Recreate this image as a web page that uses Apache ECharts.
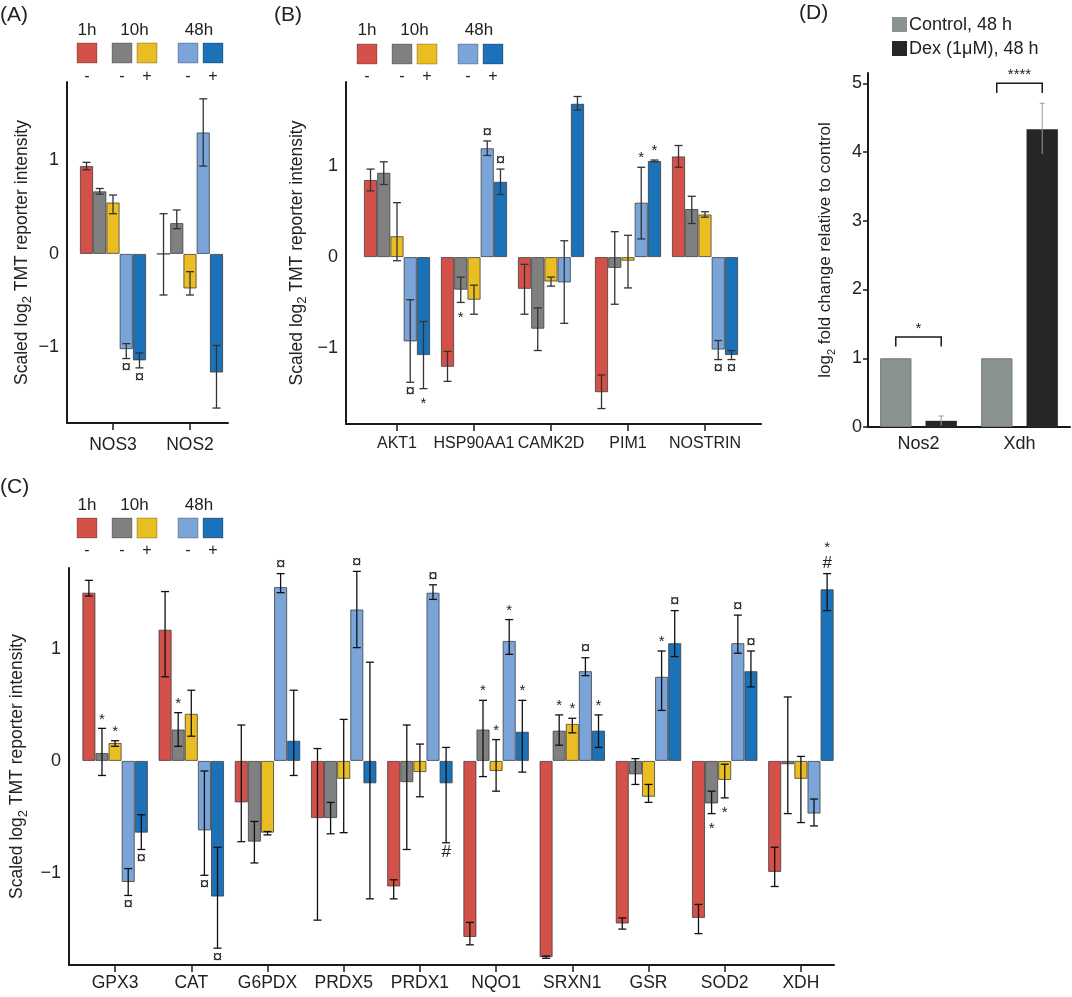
<!DOCTYPE html>
<html>
<head>
<meta charset="utf-8">
<title>Scaled log2 TMT reporter intensity</title>
<script src="https://cdn.jsdelivr.net/npm/echarts@6/dist/echarts.min.js"></script>
<style>
html, body { margin: 0; padding: 0; background: #fff; }
#container { width: 1072px; height: 997px; }
</style>
</head>
<body>
<div id="container"></div>
<script>
// ---- data ----
var seriesNames = ['1h -', '10h -', '10h +', '48h -', '48h +'];
var seriesColors = ['#d4514a', '#808080', '#eabd22', '#7ba4d9', '#1b72b8'];
var groupLabels = ['1h', '10h', '48h'];
var treatMarks = ['-', '-', '+', '-', '+'];

// (A) rows = 1h-, 10h-, 10h+, 48h-, 48h+
var genesA = ['NOS3', 'NOS2'];
var valA = [
    [0.94, 0.00],
    [0.67, 0.33],
    [0.55, -0.37],
    [-1.02, 1.30],
    [-1.14, -1.27]
];
var loA = [
    [0.90, -0.44],
    [0.64, 0.27],
    [0.43, -0.44],
    [-1.12, 0.94],
    [-1.22, -1.65]
];
var hiA = [
    [0.98, 0.43],
    [0.70, 0.47],
    [0.63, -0.19],
    [-0.96, 1.66],
    [-1.06, -0.98]
];
var marksA = [[0, 3, '¤', 'down'], [0, 4, '¤', 'down']];

// (B)
var genesB = ['AKT1', 'HSP90AA1', 'CAMK2D', 'PIM1', 'NOSTRIN'];
var valB = [
    [0.85, -1.21, -0.35, -1.49, 1.11],
    [0.93, -0.36, -0.79, -0.12, 0.53],
    [0.23, -0.47, -0.27, -0.04, 0.47],
    [-0.93, 1.20, -0.28, 0.60, -1.02],
    [-1.08, 0.83, 1.69, 1.06, -1.08]
];
var loB = [
    [0.73, -1.37, -0.63, -1.67, 0.99],
    [0.80, -0.50, -1.03, -0.52, 0.37],
    [-0.04, -0.63, -0.32, -0.34, 0.44],
    [-1.38, 1.12, -0.73, 0.20, -1.13],
    [-1.45, 0.69, 1.62, 1.05, -1.13]
];
var hiB = [
    [0.97, -1.04, -0.08, -1.30, 1.23],
    [1.05, -0.22, -0.56, 0.28, 0.67],
    [0.60, -0.31, -0.22, 0.24, 0.50],
    [-0.47, 1.28, 0.18, 0.99, -0.92],
    [-0.71, 0.97, 1.77, 1.07, -1.03]
];
var marksB = [
    [0, 3, '¤', 'down'], [0, 4, '*', 'down'], [1, 1, '*', 'down'],
    [1, 3, '¤', 'up'], [1, 4, '¤', 'up'], [3, 3, '*', 'up'], [3, 4, '*', 'up'],
    [4, 3, '¤', 'down'], [4, 4, '¤', 'down']
];

// (C)
var genesC = ['GPX3', 'CAT', 'G6PDX', 'PRDX5', 'PRDX1', 'NQO1', 'SRXN1', 'GSR', 'SOD2', 'XDH'];
var valC = [
    [1.50, 1.17, -0.37, -0.51, -1.12, -1.57, -1.75, -1.45, -1.40, -0.99],
    [0.07, 0.28, -0.72, -0.51, -0.19, 0.28, 0.27, -0.12, -0.38, -0.03],
    [0.16, 0.42, -0.64, -0.16, -0.10, -0.09, 0.33, -0.32, -0.17, -0.16],
    [-1.08, -0.62, 1.55, 1.35, 1.50, 1.07, 0.80, 0.75, 1.05, -0.47],
    [-0.64, -1.21, 0.18, -0.20, -0.20, 0.26, 0.27, 1.05, 0.80, 1.53]
];
var loC = [
    [1.47, 0.75, -0.72, -1.42, -1.23, -1.64, -1.76, -1.50, -1.54, -1.12],
    [-0.13, 0.13, -0.91, -0.65, -0.79, -0.14, 0.14, -0.21, -0.47, -0.47],
    [0.13, 0.22, -0.66, -0.64, -0.32, -0.27, 0.25, -0.37, -0.33, -0.55],
    [-1.20, -1.02, 1.50, 1.01, 1.44, 0.95, 0.76, 0.45, 0.96, -0.58],
    [-0.79, -1.67, -0.13, -1.23, -0.73, -0.10, 0.12, 0.93, 0.66, 1.34]
];
var hiC = [
    [1.61, 1.51, 0.32, 0.11, -1.06, -1.44, -1.74, -1.40, -1.28, -0.77],
    [0.29, 0.43, -0.54, -0.37, 0.32, 0.54, 0.41, 0.02, -0.27, 0.57],
    [0.18, 0.63, -0.63, 0.37, 0.15, 0.19, 0.38, -0.21, -0.03, 0.04],
    [-0.96, -0.09, 1.67, 1.69, 1.57, 1.26, 0.92, 0.98, 1.30, -0.34],
    [-0.48, -0.77, 0.63, 0.88, 0.12, 0.54, 0.41, 1.34, 0.98, 1.67]
];
var marksC = [
    [0, 1, '*', 'up'], [0, 2, '*', 'up'], [0, 3, '¤', 'down'], [0, 4, '¤', 'down'],
    [1, 1, '*', 'up'], [1, 3, '¤', 'down'], [1, 4, '¤', 'down'],
    [2, 3, '¤', 'up'],
    [3, 3, '¤', 'up'],
    [4, 3, '¤', 'up'], [4, 4, '#', 'down'],
    [5, 1, '*', 'up'], [5, 2, '*', 'up'], [5, 3, '*', 'up'], [5, 4, '*', 'up'],
    [6, 1, '*', 'up'], [6, 2, '*', 'up'], [6, 3, '¤', 'up'], [6, 4, '*', 'up'],
    [7, 3, '*', 'up'], [7, 4, '¤', 'up'],
    [8, 1, '*', 'down'], [8, 2, '*', 'down'], [8, 3, '¤', 'up'], [8, 4, '¤', 'up'],
    [9, 4, '#', 'up'], [9, 4, '*', 'up', 1]
];

// (D)
var genesD = ['Nos2', 'Xdh'];
var controlD = [1, 1];
var dexD = [0.09, 4.33];
var dexLoD = [0.02, 3.97];
var dexHiD = [0.16, 4.71];
var bracketsD = [[0, 1.17, 1.31, '*'], [1, 4.86, 5.00, '****']];

// ---- build ----
var FONT = '"Liberation Sans", Arial, Helvetica, sans-serif';
var INK = '#1a1a1a';
var GAPF = 0.14;
var grid = [], xAxis = [], yAxis = [], series = [], graphic = [];

function minus(v) { return String(v).replace('-', '\u2212'); }

function addBarPanel(p) {
    var fi = grid.length;
    grid.push({left: p.frame[0], top: p.top, width: p.frame[1] - p.frame[0], height: p.bottom - p.top, outerBoundsMode: 'none'});
    xAxis.push({gridIndex: fi, type: 'value', min: 0, max: 1,
        axisLine: {onZero: false, lineStyle: {color: INK, width: 2}},
        axisTick: {show: false}, axisLabel: {show: false}, splitLine: {show: false}});
    yAxis.push({gridIndex: fi, type: 'value', min: p.min, max: p.max,
        axisLine: {show: true, onZero: false, lineStyle: {color: INK, width: 2}},
        axisTick: {show: false}, splitLine: {show: false},
        axisLabel: {customValues: [-1, 0, 1], formatter: minus, fontSize: 18, color: '#222', margin: 8, fontFamily: FONT},
        name: 'Scaled log{s|2} TMT reporter intensity',
        nameLocation: 'middle', nameRotate: 90, nameGap: p.nameGap,
        nameTextStyle: {fontSize: 17.5, color: '#222', fontFamily: FONT, lineHeight: 24,
            rich: {s: {fontSize: 13, color: '#222', fontFamily: FONT, verticalAlign: 'bottom', lineHeight: 13}}}
    });
    var bi = grid.length;
    grid.push({left: p.bars[0], top: p.top, width: p.bars[1] - p.bars[0], height: p.bottom - p.top, outerBoundsMode: 'none'});
    xAxis.push({gridIndex: bi, type: 'category', data: p.genes,
        axisLine: {show: false, onZero: false},
        axisTick: {show: true, alignWithLabel: true, length: 7, lineStyle: {color: INK, width: 1.5}},
        axisLabel: {fontSize: p.labelSize, color: '#222', margin: p.labelMargin, fontFamily: FONT, interval: 0},
        splitLine: {show: false}});
    yAxis.push({gridIndex: bi, type: 'value', min: p.min, max: p.max, show: false});

    p.vals.forEach(function (row, s) {
        series.push({type: 'bar', name: seriesNames[s], xAxisIndex: bi, yAxisIndex: bi, data: row,
            barGap: '0%', barCategoryGap: (GAPF * 100) + '%', silent: true,
            itemStyle: {color: seriesColors[s], borderColor: 'rgba(55,55,55,0.75)', borderWidth: 1}});
    });

    var errData = [];
    p.lo.forEach(function (row, s) {
        row.forEach(function (lo, c) { errData.push([c, lo, p.hi[s][c], s]); });
    });
    series.push({type: 'custom', xAxisIndex: bi, yAxisIndex: bi, silent: true, z: 4,
        data: errData, encode: {x: 0, y: [1, 2]},
        renderItem: function (params, api) {
            var c = api.value(0), s = api.value(3);
            var bw = api.size([1, 0])[0] * (1 - GAPF) / 5;
            var x = api.coord([c, 0])[0] + (s - 2) * bw;
            var y1 = api.coord([c, api.value(1)])[1];
            var y2 = api.coord([c, api.value(2)])[1];
            var st = {stroke: p.errColor, lineWidth: 1.3};
            var cap = 4;
            return {type: 'group', children: [
                {type: 'line', shape: {x1: x, y1: y1, x2: x, y2: y2}, style: st},
                {type: 'line', shape: {x1: x - cap, y1: y1, x2: x + cap, y2: y1}, style: st},
                {type: 'line', shape: {x1: x - cap, y1: y2, x2: x + cap, y2: y2}, style: st}
            ]};
        }});

    var markData = [], markText = [];
    p.marks.forEach(function (m) {
        var up = m[3] === 'up';
        markData.push([m[0], up ? p.hi[m[1]][m[0]] : p.lo[m[1]][m[0]], m[1], up ? 1 : -1, m[4] || 0]);
        markText.push(m[2]);
    });
    series.push({type: 'custom', xAxisIndex: bi, yAxisIndex: bi, silent: true, z: 5,
        data: markData, encode: {x: 0, y: 1},
        renderItem: function (params, api) {
            var c = api.value(0), s = api.value(2), dir = api.value(3), stack = api.value(4);
            var t = markText[params.dataIndex];
            var bw = api.size([1, 0])[0] * (1 - GAPF) / 5;
            var x = api.coord([c, 0])[0] + (s - 2) * bw;
            var y = api.coord([c, api.value(1)])[1];
            var off = t === '*' ? (dir > 0 ? 9 : 15) : (t === '#' ? 10 : 9);
            y -= dir * (off + stack * 17);
            var size = t === '#' ? 17 : (t === '*' ? 15 : 17);
            return {type: 'text', x: x, y: y, style: {text: t, fill: '#222',
                font: size + 'px ' + FONT,
                align: 'center', verticalAlign: 'middle', textAlign: 'center', textVerticalAlign: 'middle'}};
        }});
}

function txt(x, y, s, size, align) {
    graphic.push({type: 'text', x: x, y: y, silent: true,
        style: {text: s, fill: '#222', font: size + 'px ' + FONT,
            align: align || 'center', verticalAlign: 'middle',
            textAlign: align || 'center', textVerticalAlign: 'middle'}});
}

function addLegend(x0, yLabel, ySw, yMark) {
    var sx = [0, 35, 60, 101, 126];
    sx.forEach(function (dx, i) {
        graphic.push({type: 'rect', silent: true, shape: {x: x0 + dx, y: ySw, width: 20, height: 20},
            style: {fill: seriesColors[i], stroke: 'rgba(0,0,0,0.25)', lineWidth: 1}});
        txt(x0 + dx + 10, yMark, treatMarks[i], 16);
    });
    txt(x0 + 10, yLabel, groupLabels[0], 17);
    txt(x0 + 57.5, yLabel, groupLabels[1], 17);
    txt(x0 + 122, yLabel, groupLabels[2], 17);
}

addBarPanel({genes: genesA, vals: valA, lo: loA, hi: hiA, marks: marksA,
    frame: [67, 228], bars: [74.5, 228.5], top: 82, bottom: 423, min: -1.81, max: 1.84,
    nameGap: 33, labelMargin: 13, labelSize: 17.5, errColor: '#333'});
addBarPanel({genes: genesB, vals: valB, lo: loB, hi: hiB, marks: marksB,
    frame: [346, 761], bars: [358.5, 743.5], top: 82, bottom: 424, min: -1.84, max: 1.93,
    nameGap: 37, labelMargin: 12, labelSize: 16, errColor: '#333'});
addBarPanel({genes: genesC, vals: valC, lo: loC, hi: hiC, marks: marksC,
    frame: [69, 834], bars: [77, 839], top: 568, bottom: 965, min: -1.82, max: 1.72,
    nameGap: 37, labelMargin: 9, labelSize: 17.5, errColor: '#111'});

// (D)
var di = grid.length;
grid.push({left: 868, top: 73, width: 202, height: 354, outerBoundsMode: 'none'});
xAxis.push({gridIndex: di, type: 'category', data: genesD,
    axisLine: {onZero: false, lineStyle: {color: INK, width: 2}},
    axisTick: {alignWithLabel: true, length: 6, lineStyle: {color: INK, width: 1.5}},
    axisLabel: {fontSize: 18, color: '#222', margin: 8, fontFamily: FONT},
    splitLine: {show: false}});
yAxis.push({gridIndex: di, type: 'value', min: 0, max: 5.15,
    axisLine: {show: true, lineStyle: {color: INK, width: 2}},
    axisTick: {show: true, length: 5, customValues: [0, 1, 2, 3, 4, 5], lineStyle: {color: INK, width: 1.5}},
    axisLabel: {customValues: [0, 1, 2, 3, 4, 5], fontSize: 18, color: '#222', margin: 6, fontFamily: FONT},
    splitLine: {show: false},
    name: 'log{s|2} fold change relative to control',
    nameLocation: 'middle', nameRotate: 90, nameGap: 31,
    nameTextStyle: {fontSize: 17, color: '#222', fontFamily: FONT, lineHeight: 24,
        rich: {s: {fontSize: 11, color: '#222', fontFamily: FONT, verticalAlign: 'bottom', lineHeight: 11}}}
});
series.push({type: 'bar', name: 'Control, 48 h', xAxisIndex: di, yAxisIndex: di, data: controlD,
    barWidth: '31%', barGap: '45%', silent: true,
    itemStyle: {color: '#8a938f', borderColor: '#737a76', borderWidth: 1}});
series.push({type: 'bar', name: 'Dex (1μM), 48 h', xAxisIndex: di, yAxisIndex: di, data: dexD,
    barWidth: '31%', barGap: '45%', silent: true,
    itemStyle: {color: '#262626'}});
series.push({type: 'custom', xAxisIndex: di, yAxisIndex: di, silent: true, z: 4,
    data: dexLoD.map(function (lo, c) { return [c, lo, dexHiD[c]]; }), encode: {x: 0, y: [1, 2]},
    renderItem: function (params, api) {
        var c = api.value(0);
        var x = api.coord([c, 0])[0] + api.size([1, 0])[0] * 0.225;
        var y1 = api.coord([c, api.value(1)])[1], y2 = api.coord([c, api.value(2)])[1];
        var st = {stroke: '#9a9a9a', lineWidth: 1};
        return {type: 'group', children: [
            {type: 'line', shape: {x1: x, y1: y1, x2: x, y2: y2}, style: st},
            {type: 'line', shape: {x1: x - 2.5, y1: y2, x2: x + 2.5, y2: y2}, style: st}
        ]};
    }});
series.push({type: 'custom', xAxisIndex: di, yAxisIndex: di, silent: true, z: 4,
    data: bracketsD.map(function (b) { return [b[0], b[1], b[2]]; }), encode: {x: 0, y: [1, 2]},
    renderItem: function (params, api) {
        var c = api.value(0);
        var cx = api.coord([c, 0])[0];
        var off = api.size([1, 0])[0] * 0.225;
        var yl = api.coord([c, api.value(1)])[1], yt = api.coord([c, api.value(2)])[1];
        return {type: 'group', children: [
            {type: 'polyline', shape: {points: [[cx - off, yl], [cx - off, yt], [cx + off, yt], [cx + off, yl]]},
                style: {stroke: INK, lineWidth: 1.5, fill: null}},
            {type: 'text', x: cx, y: yt - 1, style: {text: bracketsD[params.dataIndex][3], fill: '#222',
                font: '15px ' + FONT, align: 'center', verticalAlign: 'bottom', textAlign: 'center', textVerticalAlign: 'bottom'}}
        ]};
    }});

// legends and panel letters
addLegend(77, 30, 43, 77);
addLegend(357, 30, 44, 77);
addLegend(77, 505, 518, 551);
graphic.push({type: 'rect', silent: true, shape: {x: 892, y: 17, width: 15, height: 15}, style: {fill: '#8a938f'}});
graphic.push({type: 'rect', silent: true, shape: {x: 892, y: 41, width: 15, height: 15}, style: {fill: '#262626'}});
txt(909, 25, 'Control, 48 h', 18, 'left');
txt(909, 49, 'Dex (1μM), 48 h', 18, 'left');
txt(0, 15, '(A)', 21, 'left');
txt(274, 15, '(B)', 21, 'left');
txt(0, 487, '(C)', 21, 'left');
txt(799, 13, '(D)', 21, 'left');

var myChart = echarts.init(document.getElementById('container'));
myChart.setOption({
    animation: false,
    textStyle: {fontFamily: FONT},
    grid: grid, xAxis: xAxis, yAxis: yAxis, series: series, graphic: graphic
});
</script>
</body>
</html>
